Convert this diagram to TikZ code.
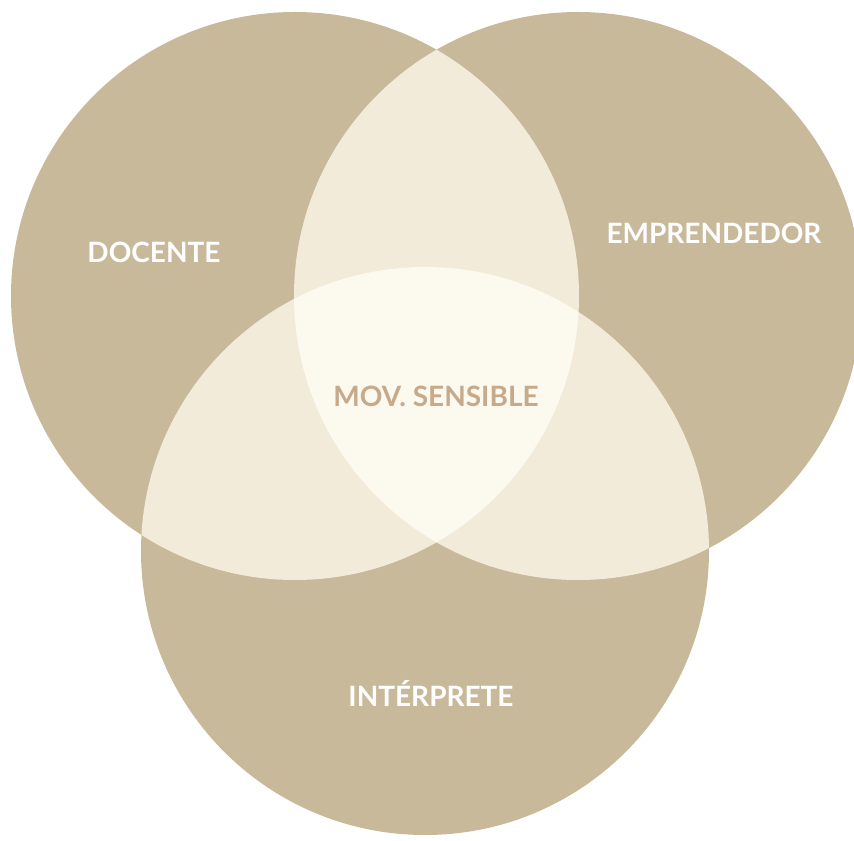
\documentclass[tikz,border=0pt]{standalone}
\usepackage{fontspec}
\setmainfont{Lato}
\definecolor{arena}{HTML}{C9B99B}
\definecolor{lino}{HTML}{F2EBDA}
\definecolor{crema}{HTML}{FCF9EF}
\definecolor{tostado}{HTML}{C6AA8B}
\tikzset{
  rol/.style={font=\fontsize{21}{21}\selectfont\bfseries, text=white},
  nucleo/.style={font=\fontsize{21}{21}\selectfont\bfseries, text=tostado}
}

\begin{document}
\begin{tikzpicture}[x=0.75pt,y=-0.75pt]
	\useasboundingbox (0,0) rectangle (854,841);
	\clip (0,0) rectangle (854,841);
	% centros de los tres circulos
	\coordinate (doc) at (295,296);
	\coordinate (emp) at (578,296);
	\coordinate (int) at (425,551);
	\fill[arena] (doc) circle (284);
	\fill[arena] (emp) circle (284);
	\fill[arena] (int) circle (284);
	% cruces de dos en dos
	\begin{scope}
		\clip (doc) circle (284);
		\fill[lino] (emp) circle (284);
		\fill[lino] (int) circle (284);
	\end{scope}
	\begin{scope}
		\clip (emp) circle (284);
		\fill[lino] (int) circle (284);
	\end{scope}
	% centro comun
	\begin{scope}
		\clip (doc) circle (284);
		\clip (emp) circle (284);
		\fill[crema] (int) circle (284);
	\end{scope}
	\node[rol] (docente) at (154,252) {DOCENTE};
	\node[rol] (emprendedor) at (714,233) {EMPRENDEDOR};
	\node[rol] (interprete) at (431,693) {INTÉRPRETE};
	\node[nucleo] (mov) at (436,396) {MOV. SENSIBLE};
\end{tikzpicture}
\end{document}
